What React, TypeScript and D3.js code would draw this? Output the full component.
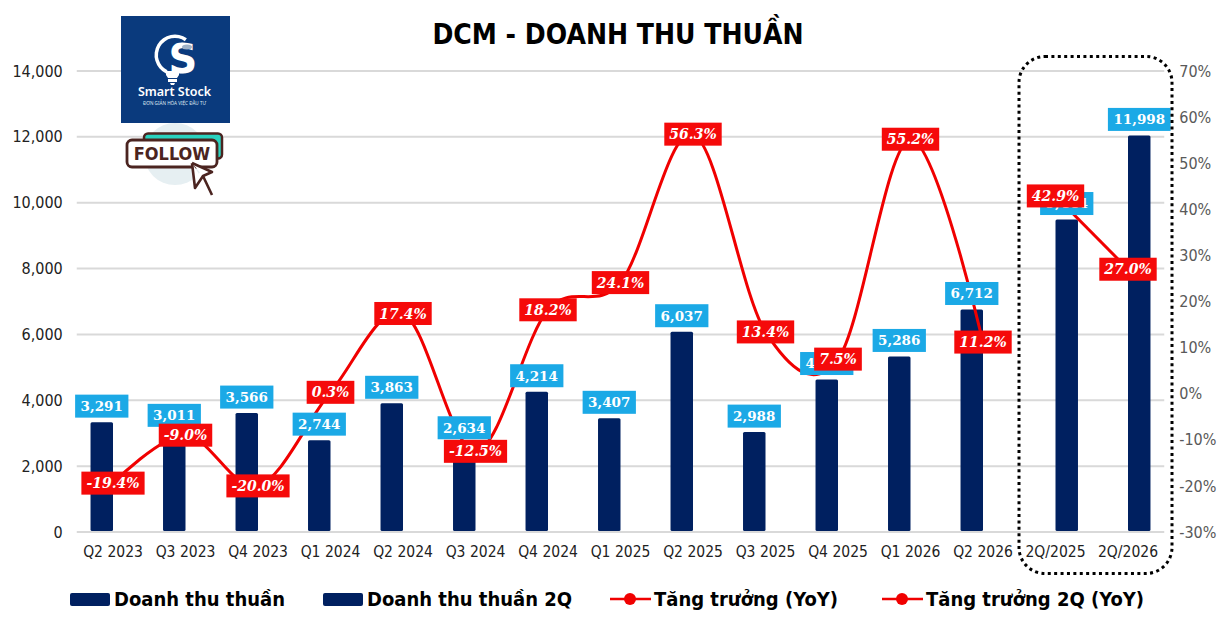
// src/App.tsx
import React, { useRef, useEffect } from 'react';
import * as d3 from 'd3';

const categories = ['Q2 2023', 'Q3 2023', 'Q4 2023', 'Q1 2024', 'Q2 2024', 'Q3 2024', 'Q4 2024', 'Q1 2025', 'Q2 2025', 'Q3 2025', 'Q4 2025', 'Q1 2026', 'Q2 2026', '2Q/2025', '2Q/2026'];
const revenueQuarter = [3291, 3011, 3566, 2744, 3863, 2634, 4214, 3407, 6037, 2988, 4585, 5286, 6712, null, null];
const revenueTwoQuarters = [null, null, null, null, null, null, null, null, null, null, null, null, null, 9444, 11998];
const growthQuarter = [-19.4, -9.0, -20.0, 0.3, 17.4, -12.5, 18.2, 24.1, 56.3, 13.4, 7.5, 55.2, 11.2, null, null];
const growthTwoQuarters = [null, null, null, null, null, null, null, null, null, null, null, null, null, 42.9, 27.0];
const revenueTicks = [0, 2000, 4000, 6000, 8000, 10000, 12000, 14000];
const growthTicks = [-30, -20, -10, 0, 10, 20, 30, 40, 50, 60, 70];
const legendNames = ['Doanh thu thuần', 'Doanh thu thuần 2Q', 'Tăng trưởng (YoY)', 'Tăng trưởng 2Q (YoY)'];
const chartTitle = 'DCM - DOANH THU THUẦN';

const NAVY = '#002060';
const RED = '#f50a0a';
const BLUE = '#1ba9e6';
const UI_FONT = '"DejaVu Sans", sans-serif';
const LABEL_FONT = '"DejaVu Serif", serif';

function App() {
    const svgRef = useRef<SVGSVGElement | null>(null);

    useEffect(() => {
        if (svgRef.current) d3.select(svgRef.current).selectAll('*').remove();
        const width = 1231;
        const height = 624;
        const left = 76.75;
        const right = 1164.25;
        const top = 71;
        const bottom = 532;

        const svg = d3.select(svgRef.current)
            .attr('width', width)
            .attr('height', height)
            .style('font-family', UI_FONT)
            .style('font-stretch', 'condensed');

        // Scales: two bar series share each band, lines sit on the band centre
        const x = d3.scaleBand<string>()
            .domain(categories)
            .range([left, right])
            .paddingInner(0.38)
            .paddingOuter(0.19);
        const xBar = d3.scaleBand<string>()
            .domain(['quarter', 'twoQuarters'])
            .range([0, x.bandwidth()]);
        const y = d3.scaleLinear().domain([0, 14000]).range([bottom, top]);
        const yGrowth = d3.scaleLinear().domain([-30, 70]).range([bottom, top]);
        const cx = (i: number) => x(categories[i])! + x.bandwidth() / 2;

        // Gridlines
        svg.append('g')
            .selectAll('line')
            .data(revenueTicks)
            .join('line')
            .attr('x1', left)
            .attr('x2', right)
            .attr('y1', d => y(d))
            .attr('y2', d => y(d))
            .attr('stroke', '#d9d9d9')
            .attr('stroke-width', 2);

        // Axes
        svg.append('g')
            .attr('transform', `translate(${left - 10},0)`)
            .call(d3.axisLeft(y).tickValues(revenueTicks).tickFormat(d3.format(',')).tickSize(0))
            .call(g => g.selectAll('.domain').remove())
            .call(g => g.selectAll('text').attr('x', -4).attr('fill', '#222').style('font-size', '16px').style('font-family', UI_FONT));
        svg.append('g')
            .attr('transform', `translate(${right + 15},0)`)
            .call(d3.axisRight(yGrowth).tickValues(growthTicks).tickFormat(d => `${d}%`).tickSize(0))
            .call(g => g.selectAll('.domain').remove())
            .call(g => g.selectAll('text').attr('x', 0).attr('fill', '#595959').style('font-size', '16px').style('font-family', UI_FONT));
        svg.append('g')
            .attr('transform', `translate(0,${bottom})`)
            .call(d3.axisBottom(x).tickSize(0))
            .call(g => g.selectAll('.domain').remove())
            .call(g => g.selectAll('text').attr('y', 14).attr('fill', '#222').style('font-size', '15.5px').style('font-family', UI_FONT));

        // Bars
        const barSeries = [
            { key: 'quarter', values: revenueQuarter },
            { key: 'twoQuarters', values: revenueTwoQuarters },
        ];
        const barPoints = barSeries.flatMap(s =>
            s.values.flatMap((v, i) => v === null ? [] : [{
                v,
                cat: categories[i],
                xPos: x(categories[i])! + xBar(s.key)!,
            }]));
        svg.append('g')
            .selectAll('rect')
            .data(barPoints)
            .join('rect')
            .attr('x', d => d.xPos)
            .attr('y', d => y(d.v) - 1.5)
            .attr('width', xBar.bandwidth())
            .attr('height', d => bottom - y(d.v) + 0.5)
            .attr('rx', 1.5)
            .attr('fill', NAVY);

        // Growth lines, smoothed like the spreadsheet chart
        const line = d3.line<number | null>()
            .defined(d => d !== null)
            .x((_, i) => cx(i))
            .y(d => yGrowth(d as number))
            .curve(d3.curveCatmullRom.alpha(0));
        [growthQuarter, growthTwoQuarters].forEach(values => {
            svg.append('path')
                .attr('d', line(values))
                .attr('fill', 'none')
                .attr('stroke', '#f00000')
                .attr('stroke-width', 3);
        });

        // Value tags: box sized from the text it holds
        const tag = (
            parent: d3.Selection<SVGGElement, unknown, null, undefined>,
            text: string, xc: number, yc: number, fill: string, italic: boolean,
        ) => {
            const g = parent.append('g');
            const rect = g.append('rect');
            const t = g.append('text')
                .attr('x', xc)
                .attr('y', yc)
                .attr('dy', '0.36em')
                .attr('text-anchor', 'middle')
                .attr('fill', '#fff')
                .style('font-family', LABEL_FONT)
                .style('font-stretch', 'normal')
                .style('font-weight', 'bold')
                .style('font-style', italic ? 'italic' : 'normal')
                .style('font-size', italic ? '14px' : '13.5px')
                .text(text);
            const w = (t.node() as SVGTextElement).getComputedTextLength() + (italic ? 10 : 11);
            rect.attr('x', xc - w / 2).attr('y', yc - 11.5).attr('width', w).attr('height', 23).attr('fill', fill);
        };

        const blueLayer = svg.append('g') as unknown as d3.Selection<SVGGElement, unknown, null, undefined>;
        barPoints.forEach(d => {
            tag(blueLayer, d3.format(',')(d.v), d.xPos + xBar.bandwidth() / 2, y(d.v) - 17.5, BLUE, false);
        });
        const redLayer = svg.append('g') as unknown as d3.Selection<SVGGElement, unknown, null, undefined>;
        [growthQuarter, growthTwoQuarters].forEach(values => {
            values.forEach((v, i) => {
                if (v !== null) tag(redLayer, `${v.toFixed(1)}%`, cx(i), yGrowth(v), RED, true);
            });
        });

        // Highlight frame round the 2Q columns
        svg.append('rect')
            .attr('x', 1019)
            .attr('y', 56.5)
            .attr('width', 153)
            .attr('height', 517)
            .attr('rx', 26)
            .attr('fill', 'none')
            .attr('stroke', '#000')
            .attr('stroke-width', 3)
            .attr('stroke-dasharray', '3 3.4');

        // Title
        svg.append('text')
            .attr('x', 618)
            .attr('y', 44)
            .attr('text-anchor', 'middle')
            .attr('fill', '#000')
            .style('font-size', '28px')
            .style('font-weight', 'bold')
            .text(chartTitle);

        // Legend
        const legendX = [70, 323, 610, 882];
        const legend = svg.append('g');
        legendNames.forEach((name, i) => {
            const lx = legendX[i];
            if (i < 2) {
                legend.append('rect')
                    .attr('x', lx).attr('y', 593)
                    .attr('width', 40).attr('height', 13).attr('rx', 2)
                    .attr('fill', NAVY);
            } else {
                legend.append('line')
                    .attr('x1', lx).attr('x2', lx + 41)
                    .attr('y1', 599).attr('y2', 599)
                    .attr('stroke', '#f00000').attr('stroke-width', 2.6);
                legend.append('circle')
                    .attr('cx', lx + 20).attr('cy', 599).attr('r', 6)
                    .attr('fill', '#f00000');
            }
            legend.append('text')
                .attr('x', lx + 44)
                .attr('y', 606)
                .attr('fill', '#000')
                .style('font-size', '20px')
                .style('font-weight', 'bold')
                .text(name);
        });

        // Smart Stock logo and follow sticker
        const logo = svg.append('g');
        logo.append('circle').attr('cx', 175).attr('cy', 154).attr('r', 31).attr('fill', '#e6eff2');
        logo.append('rect').attr('x', 121).attr('y', 16).attr('width', 109).attr('height', 107).attr('fill', '#0a3a7d');
        logo.append('path')
            .attr('d', d3.arc()({ innerRadius: 17, outerRadius: 20.5, startAngle: 3.6, endAngle: 6.9 })!)
            .attr('transform', 'translate(175,55)')
            .attr('fill', '#fff');
        logo.append('text')
            .attr('x', 183).attr('y', 73).attr('text-anchor', 'middle')
            .attr('fill', '#fff')
            .style('font-size', '40px').style('font-weight', 'bold').style('font-stretch', 'normal')
            .text('S');
        logo.append('ellipse').attr('cx', 187).attr('cy', 47).attr('rx', 5).attr('ry', 2.5).attr('fill', '#9fb2c8');
        logo.append('path').attr('d', 'M166 71h13v4l-2 3h-9l-2-3z M168 79h9v3h-9z M170 83h5l-1 2h-3z').attr('fill', '#fff');
        logo.append('text')
            .attr('x', 174.5).attr('y', 96).attr('text-anchor', 'middle')
            .attr('fill', '#fff')
            .style('font-family', '"Noto Sans", sans-serif').style('font-stretch', 'normal')
            .style('font-size', '12.5px').style('font-weight', '600')
            .text('Smart Stock');
        logo.append('text')
            .attr('x', 174.5).attr('y', 104.5).attr('text-anchor', 'middle')
            .attr('fill', '#dfe8f2')
            .style('font-family', '"Noto Sans", sans-serif').style('font-stretch', 'normal')
            .style('font-size', '4.6px')
            .text('ĐƠN GIẢN HÓA VIỆC ĐẦU TƯ');
        logo.append('rect').attr('x', 144).attr('y', 133.5).attr('width', 78).attr('height', 25).attr('rx', 4)
            .attr('fill', '#2ad2bf').attr('stroke', '#4b2420').attr('stroke-width', 2.5);
        logo.append('rect').attr('x', 127).attr('y', 140).attr('width', 90).attr('height', 27).attr('rx', 5)
            .attr('fill', '#fff').attr('stroke', '#4b2420').attr('stroke-width', 2.8);
        logo.append('text')
            .attr('x', 172).attr('y', 160).attr('text-anchor', 'middle')
            .attr('fill', '#4b2420')
            .style('font-size', '18px').style('font-weight', 'bold')
            .text('FOLLOW');
        logo.append('path')
            .attr('d', 'M192 163l20 9-9 4 9 19M192 163l3 25 8-12')
            .attr('fill', '#fff').attr('stroke', '#4b2420').attr('stroke-width', 2.6).attr('stroke-linejoin', 'round');
    }, []);

    return (
        <div>
            <svg ref={svgRef} style={{ position: 'absolute', left: 0, top: 0, background: '#fff' }}></svg>
        </div>
    );
}

export default App;
